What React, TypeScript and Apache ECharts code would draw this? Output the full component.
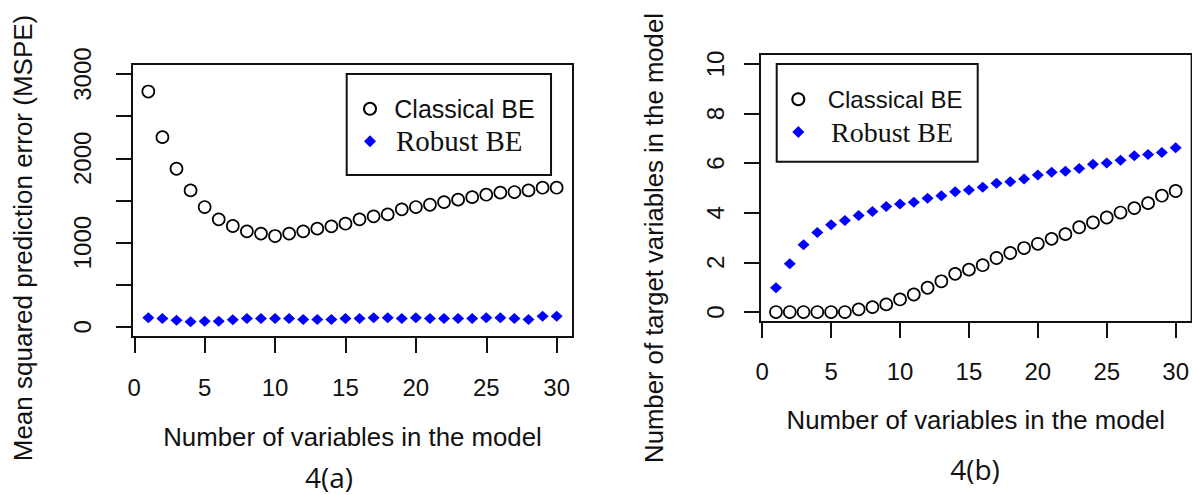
import React, { useEffect, useRef } from "react";
import * as echarts from "echarts";

const numVars = [1, 2, 3, 4, 5, 6, 7, 8, 9, 10, 11, 12, 13, 14, 15, 16, 17, 18, 19, 20, 21, 22, 23, 24, 25, 26, 27, 28, 29, 30];
const mspeClassical = [2793, 2252, 1877, 1620, 1422, 1276, 1197, 1134, 1107, 1078, 1107, 1134, 1166, 1193, 1225, 1276, 1312, 1335, 1395, 1422, 1450, 1481, 1510, 1540, 1569, 1593, 1600, 1620, 1652, 1652];
const mspeRobust = [107, 100, 80, 60, 66, 66, 85, 100, 100, 100, 100, 88, 88, 88, 100, 100, 107, 107, 100, 107, 100, 100, 100, 100, 107, 107, 100, 88, 127, 127];
const targetClassical = [0, 0, 0, 0, 0, 0, 0.11, 0.2, 0.31, 0.51, 0.71, 0.98, 1.24, 1.54, 1.71, 1.89, 2.18, 2.38, 2.58, 2.75, 2.95, 3.14, 3.42, 3.61, 3.81, 4.01, 4.19, 4.39, 4.69, 4.88];
const targetRobust = [0.98, 1.95, 2.71, 3.21, 3.52, 3.69, 3.89, 4.05, 4.25, 4.36, 4.43, 4.59, 4.69, 4.85, 4.92, 5.03, 5.19, 5.25, 5.36, 5.52, 5.63, 5.68, 5.79, 5.96, 6.01, 6.12, 6.3, 6.35, 6.43, 6.62];

const xTicks = [0, 5, 10, 15, 20, 25, 30];
const mspeTicks = [0, 500, 1000, 1500, 2000, 2500, 3000];
const mspeLabels = [0, 1000, 2000, 3000];
const targetTicks = [0, 2, 4, 6, 8, 10];

const seriesNames = ["Classical BE", "Robust BE"];
const xTitle = "Number of variables in the model";
const yTitleA = "Mean squared prediction error (MSPE)";
const yTitleB = "Number of target variables in the model";
const panelA = "4(a)";
const panelB = "4(b)";

const SANS = '"Liberation Sans", Arial, sans-serif';
const SERIF = '"Liberation Serif", "Times New Roman", serif';
const INK = "#111";

function pairs(ys: number[]) {
  return numVars.map((x, i) => [x, ys[i]]);
}

const plain = (v: number) => String(v);

function xAxisFor(gridIndex: number, labelMargin: number, nameGap: number) {
  return {
    gridIndex,
    type: "value",
    min: -0.16,
    max: 31.16,
    name: xTitle,
    nameLocation: "middle",
    nameGap,
    nameTextStyle: { fontFamily: SANS, fontSize: 25.8, color: INK },
    axisLine: { show: true, onZero: false, lineStyle: { color: INK, width: 2 } },
    axisTick: { show: true, length: 16, customValues: xTicks, lineStyle: { color: INK, width: 2 } },
    axisLabel: { customValues: xTicks, formatter: plain, margin: labelMargin, fontFamily: SANS, fontSize: 24, color: INK },
    splitLine: { show: false },
  };
}

export default function App() {
  const ref = useRef<HTMLDivElement>(null);
  useEffect(() => {
    if (!ref.current) return;
    const chart = echarts.init(ref.current, undefined, { renderer: "svg" });
    const classicalStyle = { color: "rgba(0,0,0,0)", borderColor: "#000", borderWidth: 1.7, opacity: 1 };
    const robustStyle = { color: "#0000ff", opacity: 1 };
    const option: any = {
      animation: false,
      backgroundColor: "#fff",
      grid: [
        { left: 132, top: 64, width: 441, height: 273, show: true, borderColor: INK, borderWidth: 2, backgroundColor: "transparent" },
        { left: 760, top: 54, width: 436, height: 268, show: true, borderColor: INK, borderWidth: 2, backgroundColor: "transparent" },
      ],
      xAxis: [xAxisFor(0, 38.5, 86.7), xAxisFor(1, 37, 85.3)],
      yAxis: [
        {
          gridIndex: 0,
          type: "value",
          min: -120,
          max: 3120,
          axisLine: { show: true, onZero: false, lineStyle: { color: INK, width: 2 } },
          axisTick: { show: true, length: 16, customValues: mspeTicks, lineStyle: { color: INK, width: 2 } },
          axisLabel: { customValues: mspeLabels, formatter: plain, rotate: 90, margin: 38, fontFamily: SANS, fontSize: 24, color: INK },
          splitLine: { show: false },
        },
        {
          gridIndex: 1,
          type: "value",
          min: -0.4,
          max: 10.4,
          axisLine: { show: true, onZero: false, lineStyle: { color: INK, width: 2 } },
          axisTick: { show: true, length: 16, customValues: targetTicks, lineStyle: { color: INK, width: 2 } },
          axisLabel: { customValues: targetTicks, formatter: plain, rotate: 90, margin: 33, fontFamily: SANS, fontSize: 24, color: INK },
          splitLine: { show: false },
        },
      ],
      legend: [
        {
          left: 346.7,
          top: 74,
          orient: "vertical",
          align: "left",
          selectedMode: false,
          borderColor: INK,
          borderWidth: 2,
          padding: [22.3, 16.4, 19.2, 16.3],
          itemGap: 5.5,
          itemWidth: 12,
          itemHeight: 12,
          data: [
            { name: seriesNames[0], textStyle: { fontFamily: SANS, fontSize: 25, color: INK, padding: [0, 0, 0, 13.3] } },
            { name: seriesNames[1], textStyle: { fontFamily: SERIF, fontSize: 29, color: INK, padding: [0, 0, 0, 15] } },
          ],
        },
        {
          left: 776.7,
          top: 64,
          orient: "vertical",
          align: "left",
          selectedMode: false,
          borderColor: INK,
          borderWidth: 2,
          padding: [23.2, 15.3, 15.7, 14.6],
          itemGap: 6.8,
          itemWidth: 12,
          itemHeight: 12,
          data: [
            { name: seriesNames[0], textStyle: { fontFamily: SANS, fontSize: 24, color: INK, padding: [0, 0, 0, 18.4] } },
            { name: seriesNames[1], textStyle: { fontFamily: SERIF, fontSize: 28, color: INK, padding: [0, 0, 0, 21.7] } },
          ],
        },
      ],
      series: [
        { name: seriesNames[0], type: "scatter", xAxisIndex: 0, yAxisIndex: 0, symbol: "circle", symbolSize: 12, itemStyle: classicalStyle, data: pairs(mspeClassical) },
        { name: seriesNames[1], type: "scatter", xAxisIndex: 0, yAxisIndex: 0, symbol: "diamond", symbolSize: [12, 11], itemStyle: robustStyle, data: pairs(mspeRobust) },
        { name: seriesNames[0], type: "scatter", xAxisIndex: 1, yAxisIndex: 1, symbol: "circle", symbolSize: 12, itemStyle: classicalStyle, data: pairs(targetClassical) },
        { name: seriesNames[1], type: "scatter", xAxisIndex: 1, yAxisIndex: 1, symbol: "diamond", symbolSize: [12, 11], itemStyle: robustStyle, data: pairs(targetRobust) },
      ],
      graphic: [
        {
          type: "text",
          x: 22.5,
          y: 238,
          rotation: Math.PI / 2,
          style: { text: yTitleA, fontFamily: SANS, fontSize: 26, fill: INK, align: "center", verticalAlign: "middle" },
        },
        {
          type: "text",
          x: 653.5,
          y: 238,
          rotation: Math.PI / 2,
          style: { text: yTitleB, fontFamily: SANS, fontSize: 25.7, fill: INK, align: "center", verticalAlign: "middle" },
        },
        {
          type: "text",
          x: 329,
          y: 477,
          style: { text: panelA, fontFamily: '"Open Sans", sans-serif', fontSize: 28, fill: INK, align: "center", verticalAlign: "middle" },
        },
        {
          type: "text",
          x: 975,
          y: 469,
          style: { text: panelB, fontFamily: '"Open Sans", sans-serif', fontSize: 28, fill: INK, align: "center", verticalAlign: "middle" },
        },
      ],
    };
    chart.setOption(option);
    return () => chart.dispose();
  }, []);
  return <div ref={ref} style={{ position: "absolute", left: 0, top: 0, width: 1192, height: 495 }} />;
}
